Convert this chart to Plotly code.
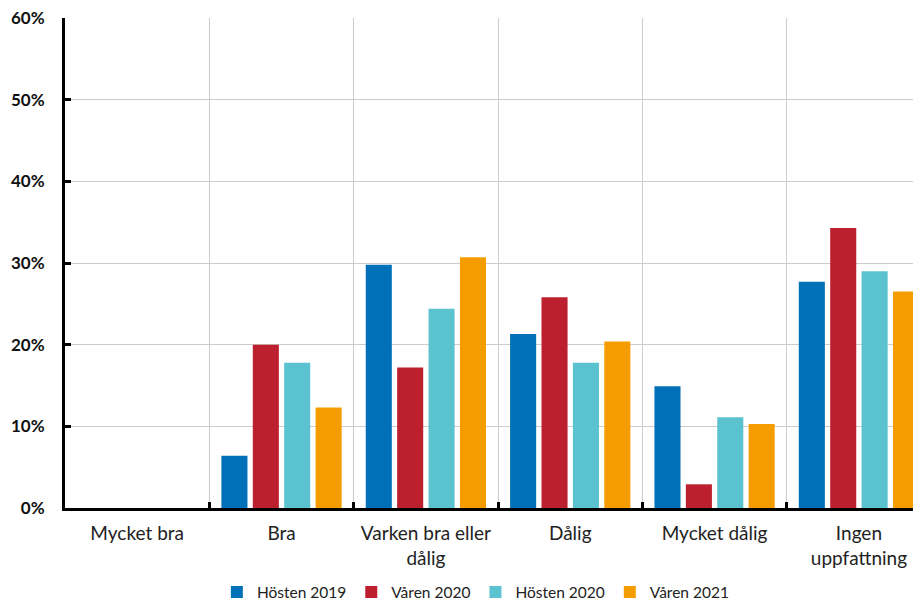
import plotly.graph_objects as go

categories = ["Mycket bra", "Bra", "Varken bra eller<br>dålig", "Dålig", "Mycket dålig", "Ingen<br>uppfattning"]
series_names = ["Hösten 2019", "Våren 2020", "Hösten 2020", "Våren 2021"]
hosten_2019 = [0, 6.4, 29.8, 21.3, 14.9, 27.7]
varen_2020 = [0, 20.0, 17.2, 25.8, 2.9, 34.3]
hosten_2020 = [0, 17.8, 24.4, 17.8, 11.1, 29.0]
varen_2021 = [0, 12.3, 30.7, 20.4, 10.3, 26.5]
y_ticks = [0, 10, 20, 30, 40, 50, 60]
y_labels = ["0%", "10%", "20%", "30%", "40%", "50%", "60%"]

colors = ["#0070B8", "#BC1F2D", "#5BC2D0", "#F59C00"]
values = [hosten_2019, varen_2020, hosten_2020, varen_2021]

fig = go.Figure()
for name, vals, col in zip(series_names, values, colors):
    fig.add_trace(go.Bar(x=categories, y=vals, name=name, marker_color=col,
                         marker_line_width=0))

fig.update_layout(
    width=921, height=602,
    margin=dict(l=57, r=8, t=10, b=102),
    paper_bgcolor="white", plot_bgcolor="white",
    font=dict(family="Lato, Noto Sans, sans-serif", color="#222222"),
    barmode="group", bargap=0.13, bargroupgap=0.17,
    showlegend=True,
    legend=dict(orientation="h", x=0.48, xanchor="center",
                yref="container", y=0.029, yanchor="middle",
                font=dict(size=15.5), itemwidth=30, traceorder="normal"),
)
fig.update_xaxes(
    type="category", range=[-0.5, 5.43], tickson="boundaries", automargin=False,
    showgrid=True, gridcolor="#CCCCCC", gridwidth=1,
    showline=True, linecolor="black", linewidth=3,
    ticks="inside", ticklen=6, tickwidth=3, tickcolor="black",
    tickfont=dict(size=19, color="#222222"), ticklabelstandoff=6,
)
fig.update_yaxes(
    range=[0, 60], tickvals=y_ticks, ticktext=y_labels, automargin=False,
    showgrid=True, gridcolor="#CCCCCC", gridwidth=1,
    showline=True, linecolor="black", linewidth=3,
    ticks="inside", ticklen=6, tickwidth=3, tickcolor="black",
    tickfont=dict(size=17, color="#111111", family="Lato, sans-serif", weight="bold"),
    ticklabelstandoff=14, zeroline=False, ticklabeloverflow="allow",
)
fig.write_html("out.html")
